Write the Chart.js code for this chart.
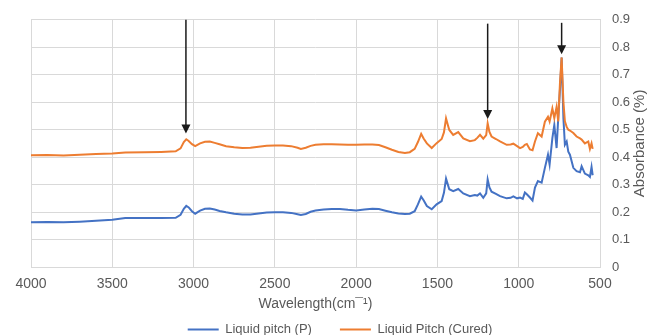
<!DOCTYPE html>
<html>
<head>
<meta charset="utf-8">
<script src="https://cdn.jsdelivr.net/npm/chart.js@4/dist/chart.umd.min.js"></script>
<style>
  html, body { margin: 0; padding: 0; background: #fff; }
  #wrap { width: 649px; height: 335px; }
</style>
</head>
<body>
<div id="wrap"><canvas id="ftir" width="649" height="335"></canvas></div>
<script>
// values
const wavenumbers = [
  4000, 3900, 3800, 3700, 3600, 3500, 3420, 3300, 3200, 3110,
  3080, 3060, 3045, 3030, 3010, 2990, 2960, 2930, 2900, 2870,
  2840, 2800, 2750, 2700, 2650, 2600, 2550, 2500, 2450, 2400,
  2360, 2340, 2310, 2280, 2250, 2200, 2150, 2100, 2050, 2000,
  1950, 1900, 1860, 1820, 1780, 1740, 1700, 1670, 1640, 1620,
  1600, 1585, 1565, 1535, 1505, 1474, 1460, 1447, 1435, 1427,
  1403, 1372, 1341, 1300, 1270, 1255, 1238, 1218, 1200, 1191,
  1180, 1167, 1140, 1115, 1074, 1050, 1033, 1010, 992, 975,
  962, 950, 931, 915, 900, 882, 859, 839, 820, 810,
  793, 781, 767, 757, 746, 736, 725, 716, 705, 695,
  685, 664, 644, 623, 613, 593, 572, 562, 552, 545
];
const curedValues = [
  0.407, 0.408, 0.406, 0.409, 0.411, 0.413, 0.417, 0.418, 0.419, 0.421,
  0.432, 0.455, 0.465, 0.459, 0.447, 0.440, 0.450, 0.456, 0.457, 0.452,
  0.447, 0.440, 0.436, 0.433, 0.434, 0.438, 0.441, 0.442, 0.442, 0.440,
  0.434, 0.430, 0.434, 0.441, 0.445, 0.447, 0.447, 0.446, 0.445, 0.445,
  0.446, 0.446, 0.444, 0.436, 0.427, 0.419, 0.415, 0.418, 0.430, 0.455,
  0.485, 0.468, 0.450, 0.433, 0.451, 0.466, 0.490, 0.541, 0.515, 0.499,
  0.481, 0.491, 0.468, 0.458, 0.462, 0.470, 0.481, 0.467, 0.480, 0.523,
  0.492, 0.475, 0.466, 0.457, 0.445, 0.446, 0.449, 0.440, 0.433, 0.437,
  0.445, 0.448, 0.428, 0.425, 0.457, 0.487, 0.475, 0.529, 0.547, 0.530,
  0.577, 0.542, 0.583, 0.530, 0.673, 0.763, 0.600, 0.530, 0.510, 0.500,
  0.497, 0.488, 0.475, 0.468, 0.464, 0.450, 0.457, 0.430, 0.450, 0.430
];
const pitchValues = [
  0.163, 0.164, 0.163, 0.165, 0.168, 0.172, 0.178, 0.178, 0.178, 0.179,
  0.190, 0.212, 0.223, 0.217, 0.203, 0.194, 0.205, 0.212, 0.213, 0.209,
  0.204, 0.199, 0.194, 0.191, 0.191, 0.195, 0.198, 0.199, 0.199, 0.197,
  0.192, 0.189, 0.193, 0.201, 0.206, 0.209, 0.211, 0.211, 0.208, 0.206,
  0.209, 0.212, 0.211, 0.205, 0.199, 0.195, 0.193, 0.194, 0.203, 0.228,
  0.256, 0.243, 0.222, 0.210, 0.228, 0.240, 0.270, 0.322, 0.298, 0.283,
  0.276, 0.284, 0.268, 0.258, 0.262, 0.260, 0.268, 0.252, 0.268, 0.319,
  0.290, 0.274, 0.266, 0.258, 0.250, 0.252, 0.257, 0.250, 0.253, 0.248,
  0.271, 0.265, 0.253, 0.242, 0.289, 0.313, 0.307, 0.361, 0.409, 0.373,
  0.469, 0.517, 0.433, 0.541, 0.649, 0.763, 0.541, 0.445, 0.457, 0.420,
  0.409, 0.361, 0.349, 0.345, 0.367, 0.340, 0.334, 0.328, 0.364, 0.334
];
const seriesLabels = ['Liquid pitch (P)', 'Liquid Pitch (Cured)'];
const seriesColors = ['#4472C4', '#ED7D31'];
const xTickValues = [4000, 3500, 3000, 2500, 2000, 1500, 1000, 500];
const yTickValues = [0, 0.1, 0.2, 0.3, 0.4, 0.5, 0.6, 0.7, 0.8, 0.9];
const xTitle = 'Wavelength(cm\u00AF\u00B9)';
const yTitle = 'Absorbance (%)';

// marked peaks: position, start of shaft, tip of head
const arrowWavenumbers = [3047, 1191, 736];
const arrowTops = [0.9, 0.886, 0.889];
const arrowTips = [0.486, 0.539, 0.775];

const textColor = '#595959';
const gridColor = '#d9d9d9';
const fontFamily = '"Liberation Sans", Arial, sans-serif';

function toPoints(values) {
    return wavenumbers.map((wn, i) => ({ x: wn, y: values[i] }));
}

const annotatePlugin = {
    id: 'annotate',
    afterDatasetsDraw(chart) {
        const { ctx, scales: { x, y } } = chart;
        ctx.save();
        ctx.strokeStyle = '#1a1a1a';
        ctx.fillStyle = '#1a1a1a';
        ctx.lineWidth = 1.5;
        arrowWavenumbers.forEach((wn, i) => {
            const px = x.getPixelForValue(wn);
            const top = y.getPixelForValue(arrowTops[i]);
            const tip = y.getPixelForValue(arrowTips[i]);
            ctx.beginPath();
            ctx.moveTo(px, top);
            ctx.lineTo(px, tip - 8);
            ctx.stroke();
            ctx.beginPath();
            ctx.moveTo(px - 4.5, tip - 9);
            ctx.lineTo(px + 4.5, tip - 9);
            ctx.lineTo(px, tip);
            ctx.closePath();
            ctx.fill();
        });
        ctx.restore();
    },
    afterDraw(chart) {
        // right-hand axis title reads bottom to top, like a left axis
        const { ctx, chartArea, scales: { y } } = chart;
        ctx.save();
        ctx.translate(y.right - 9, (chartArea.top + chartArea.bottom) / 2);
        ctx.rotate(-Math.PI / 2);
        ctx.font = '15px ' + fontFamily;
        ctx.fillStyle = textColor;
        ctx.textAlign = 'center';
        ctx.textBaseline = 'middle';
        ctx.fillText(yTitle, 0, 0);
        ctx.restore();
    }
};

new Chart(document.getElementById('ftir'), {
    type: 'line',
    data: {
        datasets: [{
            label: seriesLabels[0],
            data: toPoints(pitchValues),
            borderColor: seriesColors[0],
            backgroundColor: seriesColors[0],
            borderWidth: 2,
            pointRadius: 0,
            tension: 0,
            order: 1
        }, {
            label: seriesLabels[1],
            data: toPoints(curedValues),
            borderColor: seriesColors[1],
            backgroundColor: seriesColors[1],
            borderWidth: 2,
            pointRadius: 0,
            tension: 0,
            order: 0
        }]
    },
    options: {
        responsive: false,
        animation: false,
        layout: { padding: { top: 17, left: 31, right: 0, bottom: 0 } },
        plugins: {
            tooltip: { enabled: false },
            legend: {
                position: 'bottom',
                maxHeight: 40,
                labels: {
                    usePointStyle: true,
                    pointStyle: 'line',
                    pointStyleWidth: 31,
                    padding: 28,
                    color: textColor,
                    font: { size: 13, family: fontFamily },
                    sort: (a, b) => a.datasetIndex - b.datasetIndex
                }
            }
        },
        scales: {
            x: {
                type: 'linear',
                reverse: true,
                min: 500,
                max: 4000,
                afterFit(scale) { scale.height = 28; },
                afterBuildTicks(scale) {
                    scale.ticks = xTickValues.map(v => ({ value: v }));
                },
                ticks: {
                    padding: 9,
                    color: textColor,
                    font: { size: 14, family: fontFamily },
                    maxRotation: 0,
                    callback: v => String(v)
                },
                grid: { color: gridColor, drawTicks: false },
                border: { color: gridColor },
                title: {
                    display: true,
                    text: xTitle,
                    color: textColor,
                    font: { size: 14, family: fontFamily },
                    padding: { top: 0, bottom: -18 }
                }
            },
            y: {
                position: 'right',
                min: 0,
                max: 0.9,
                afterFit(scale) { scale.width = 49; },
                afterBuildTicks(scale) {
                    scale.ticks = yTickValues.map(v => ({ value: v }));
                },
                ticks: {
                    padding: 12,
                    color: textColor,
                    font: { size: 13, family: fontFamily },
                    callback: v => String(v)
                },
                grid: { color: gridColor, drawTicks: false },
                border: { color: gridColor }
            }
        }
    },
    plugins: [annotatePlugin]
});
</script>
</body>
</html>
